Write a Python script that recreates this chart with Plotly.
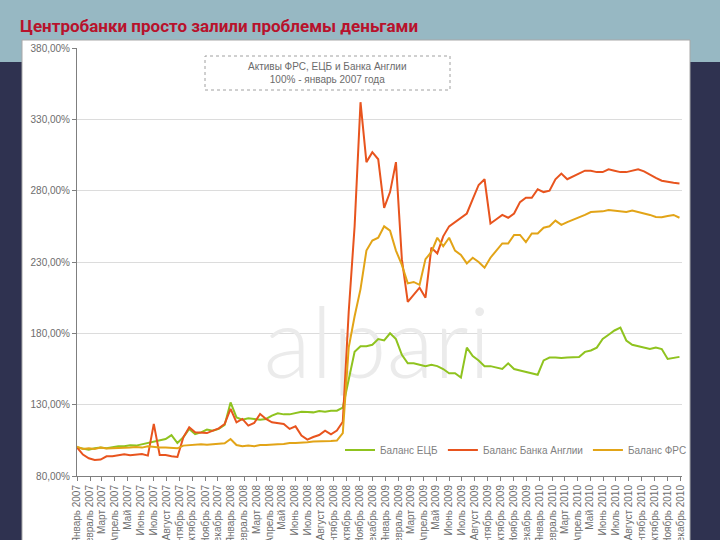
import pandas as pd
import plotly.graph_objects as go

# ---- data (biweekly observations, % of Jan 2007 level) ----
ecb = [100, 99.2, 98.5, 99.4, 99.9, 99.4, 100.3, 100.8, 100.8, 101.5,
       101.3, 102.2, 103.1, 103.8, 105.0, 105.9, 108.7, 103.1, 107.1, 113.0,
       109.4, 110.6, 112.5, 111.8, 113.0, 115.8, 131.6, 121.1, 119.5, 120.4,
       120.0, 119.5, 120.0, 122.3, 123.9, 123.2, 123.2, 124.2, 125.1, 124.9,
       124.6, 125.6, 125.1, 125.8, 125.8, 128, 147, 167, 171, 171,
       172, 176, 175, 180, 176, 165, 159, 159, 158, 157,
       158, 157, 155, 152, 152, 149, 170, 164, 161, 157,
       157, 156, 155, 159, 155, 154, 153, 152, 151, 161,
       163, 163, 162.7, 163, 163, 163.4, 167, 168, 170, 176,
       179, 182, 184, 175, 172, 171, 170, 169, 170, 169,
       162, 162.5, 163.5]

boe = [100, 95.0, 92.4, 91.2, 91.5, 93.8, 93.8, 94.7, 95.2, 94.5,
       94.7, 95.4, 94.3, 116.5, 94.7, 94.7, 93.8, 93.3, 107.1, 114.1,
       110.6, 110.6, 110.1, 111.8, 113.4, 116.5, 127.0, 117.6, 120.0, 115.3,
       117.2, 123.5, 120.0, 117.6, 117.2, 116.5, 113.0, 114.8, 108.3, 105.5,
       107.3, 108.7, 111.8, 109.2, 111.8, 118, 195, 255, 342, 300,
       307, 302, 268, 279, 300, 232, 202, 207, 212, 205,
       240, 236, 248, 255, 258, 261, 264, 274, 284, 288,
       257, 260, 263, 261, 264, 272, 275, 275, 281, 279,
       280, 288, 292, 288, 290, 292.5, 294, 294, 293, 293,
       295, 294, 293, 293, 294, 295, 293.5, 291, 289, 287,
       286, 285.5, 285]

fed = [100.5, 98.9, 99.4, 98.9, 99.9, 99.2, 99.4, 99.4, 99.6, 99.9,
       100.3, 99.9, 100.8, 100.3, 99.9, 99.9, 99.6, 99.4, 101.3, 101.7,
       101.7, 102.2, 101.9, 102.2, 102.4, 102.9, 105.9, 101.7, 100.8, 101.3,
       100.8, 101.7, 101.7, 102.2, 102.2, 102.4, 103.1, 103.1, 103.1, 103.6,
       104.1, 104.1, 104.3, 104.5, 104.8, 110, 170, 192, 211, 238,
       245, 247, 255, 252, 238, 228, 215, 216, 214, 232,
       237, 247, 241, 247, 238, 235, 229, 233, 230, 226,
       233, 238, 243, 243, 249, 249, 244, 250, 250, 254,
       255, 259, 256, 258, 259.5, 261, 263, 265, 265, 265.5,
       266.5, 266, 265.8, 265, 266, 265, 264.4, 263, 261.6, 261.4,
       262.3, 263, 261]

dates = pd.date_range("2007-01-01", periods=len(ecb), freq="14D")

months_ru = ["Январь", "Февраль", "Март", "Апрель", "Май", "Июнь", "Июль",
             "Август", "Сентябрь", "Октябрь", "Ноябрь", "Декабрь"]
month_ticks = pd.date_range("2007-01-01", "2010-12-01", freq="MS")
month_labels = [f"{months_ru[d.month - 1]} {d.year}" for d in month_ticks]

y_ticks = [80, 130, 180, 230, 280, 330, 380]
y_labels = [f"{v},00%" for v in y_ticks]

series_names = ["Баланс ЕЦБ", "Баланс Банка Англии", "Баланс ФРС"]
series_colors = ["#8fc31f", "#e8541e", "#e2a417"]

fig = go.Figure()

# watermark (drawn first, below the lines)
fig.add_trace(go.Scatter(x=[pd.Timestamp("2008-12-12")], y=[166], mode="text",
                         text=["alpari"], showlegend=False, hoverinfo="skip",
                         textfont=dict(size=98, color="#ebebeb", family="Lato", weight=300)))

for name, vals, col in zip(series_names, [ecb, boe, fed], series_colors):
    fig.add_trace(go.Scatter(x=dates, y=vals, mode="lines", name=name,
                             line=dict(color=col, width=2)))

# pixel -> paper helpers
def px(x):
    return (x - 77) / 605.0

def py(y):
    return (476 - y) / 428.0

shapes = [
    dict(type="rect", xref="paper", yref="paper", x0=px(0), x1=px(720), y0=py(62), y1=py(0),
         fillcolor="#97b8c3", line=dict(width=0), layer="below"),
    dict(type="rect", xref="paper", yref="paper", x0=px(22), x1=px(690), y0=py(541), y1=py(40),
         fillcolor="white", line=dict(color="#a8a8a8", width=1), layer="below"),
    dict(type="rect", xref="paper", yref="paper", x0=px(205), x1=px(450), y0=py(90), y1=py(56),
         fillcolor="rgba(0,0,0,0)", line=dict(color="#a0a0a0", width=1, dash="dot"), layer="above"),
]

annotations = [
    dict(xref="paper", yref="paper", x=px(18), y=py(26), xanchor="left", yanchor="middle",
         text="<b>Центробанки просто залили проблемы деньгами</b>", showarrow=False,
         font=dict(size=17, color="#b8122c", family="Roboto")),
    dict(xref="paper", yref="paper", x=px(327), y=py(73), xanchor="center", yanchor="middle",
         text="Активы ФРС, ЕЦБ и Банка Англии<br>100% - январь 2007 года", showarrow=False,
         font=dict(size=10, color="#6b6b6b", family="Liberation Sans")),
]

fig.update_layout(
    width=720, height=540,
    margin=dict(l=77, r=38, t=48, b=64),
    paper_bgcolor="#2f3250",
    plot_bgcolor="white",
    shapes=shapes,
    annotations=annotations,
    font=dict(family="Liberation Sans", color="#6d6d6d"),
    legend=dict(orientation="h", x=px(340), y=py(450), xanchor="left", yanchor="middle",
                font=dict(size=10, color="#7f7f7f"), bgcolor="rgba(0,0,0,0)"),
    xaxis=dict(range=["2007-01-01", "2010-12-05"], tickvals=month_ticks, ticktext=month_labels,
               tickangle=-90, tickfont=dict(size=10, color="#6d6d6d"), showgrid=False,
               showline=True, linecolor="#7f7f7f", ticks="outside", ticklen=4,
               tickcolor="#7f7f7f", automargin=False),
    yaxis=dict(range=[80, 380], tickvals=y_ticks, ticktext=y_labels,
               tickfont=dict(size=10, color="#6d6d6d"), showgrid=True, gridcolor="#dcdcdc",
               showline=True, linecolor="#7f7f7f", ticks="outside", ticklen=4,
               tickcolor="#7f7f7f", zeroline=False, automargin=False),
)

fig.write_html("out.html", config={"displayModeBar": False},
               post_script="document.body.style.margin='0px';")
